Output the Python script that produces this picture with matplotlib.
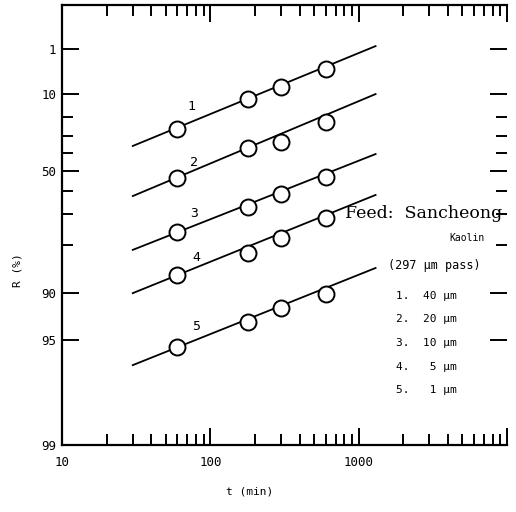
import numpy as np
import matplotlib
matplotlib.use('Agg')
import matplotlib.pyplot as plt

# Data
t_min = [60, 180, 300, 600]
R1 = [26.3, 11.9, 7.8, 3.4]
R2 = [53.5, 37.0, 33.6, 22.6]
R3 = [76.2, 67.1, 61.4, 53.0]
R4 = [87.0, 82.2, 78.1, 71.4]
R5 = [95.5, 93.5, 92.0, 90.1]
series = [R1, R2, R3, R4, R5]

# fitted lines (start / end)
line_t = [30, 1300]
line_R = [[35.8, 0.81], [62.3, 10.1], [81.4, 40.4], [90.0, 61.8], [96.6, 85.6]]

# curve number labels (t, R)
num_t = [74, 78, 78, 81, 80]
num_R = [15.3, 44.9, 69.5, 83.4, 93.95]

legend_lines = ['1.  40 \u03bcm', '2.  20 \u03bcm', '3.  10 \u03bcm', '4.   5 \u03bcm', '5.   1 \u03bcm']

y_major = [1, 10, 50, 90, 95, 99]
y_minor = [20, 30, 40, 60, 70, 80]
x_major = [10, 100, 1000, 10000]
x_labels = ['10', '100', '1000', '']


# Rosin-Rammler style probability scale
def fwd(R):
    R = np.clip(np.asarray(R, dtype=float), 1e-9, 100 - 1e-9)
    return -np.log(np.log(100.0 / R))


def inv(y):
    y = np.asarray(y, dtype=float)
    return 100.0 * np.exp(-np.exp(-y))


fig = plt.figure(figsize=(5.16, 5.12), dpi=100)
ax = fig.add_axes([62 / 516, 67 / 512, 445 / 516, 440 / 512])
ax.set_xscale('log')
ax.set_yscale('function', functions=(fwd, inv))
ax.set_xlim(10, 10000)
ax.set_ylim(99, 0.0112)

for Rl in line_R:
    ax.plot(line_t, Rl, color='black', lw=1.3, zorder=2)
for R in series:
    ax.plot(t_min, R, 'o', ms=11.5, mfc='white', mec='black', mew=1.4, zorder=3)
for i in range(5):
    ax.text(num_t[i], num_R[i], str(i + 1), fontsize=9.5, family='DejaVu Sans Mono',
            ha='center', va='center')

ax.set_yticks(y_major)
ax.set_yticklabels([str(v) for v in y_major])
ax.set_yticks(y_minor, minor=True)
ax.set_xticks(x_major)
ax.set_xticklabels(x_labels)

ax.tick_params(which='both', direction='in', top=True, right=True, width=1.4,
               labelsize=9, pad=4)
ax.tick_params(which='major', length=12)
ax.tick_params(which='minor', length=8)
for lab in ax.get_xticklabels() + ax.get_yticklabels():
    lab.set_family('DejaVu Sans Mono')
ax.tick_params(axis='x', pad=8)

for s in ['left', 'top', 'bottom']:
    ax.spines[s].set_linewidth(1.6)
ax.spines['right'].set_visible(False)

fig.text(18 / 516, 1 - 270 / 512, 'R (%)', rotation=90, ha='center', va='center',
         fontsize=8, family='DejaVu Sans Mono')
fig.text(250 / 516, 1 - 492 / 512, 't (min)', ha='center', va='center',
         fontsize=8, family='DejaVu Sans Mono')

fig.text(345 / 516, 1 - 213 / 512, 'Feed:  Sancheong', ha='left', va='center',
         fontsize=12.5, family='DejaVu Serif')
fig.text(485 / 516, 1 - 238 / 512, 'Kaolin', ha='right', va='center',
         fontsize=7, family='DejaVu Sans Mono')
fig.text(388 / 516, 1 - 265 / 512, '(297 \u03bcm pass)', ha='left', va='center',
         fontsize=8.5, family='DejaVu Sans Mono')
for i, txt in enumerate(legend_lines):
    fig.text(396 / 516, 1 - (296 + 23.5 * i) / 512, txt, ha='left', va='center',
             fontsize=8, family='DejaVu Sans Mono')

fig.savefig('out.png', dpi=100)
